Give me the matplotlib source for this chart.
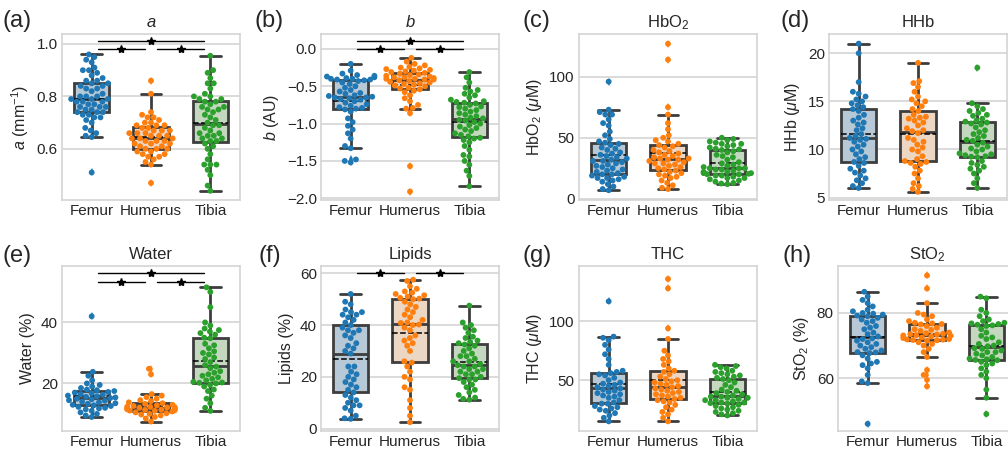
import numpy as np
import pandas as pd
import seaborn as sns
from matplotlib import pyplot as plt

sns.set_theme(style='whitegrid')
plt.rcParams['font.family'] = ['Liberation Sans', 'DejaVu Sans']
plt.rcParams['mathtext.fontset'] = 'custom'
plt.rcParams['mathtext.rm'] = 'Liberation Sans'
plt.rcParams['mathtext.it'] = 'Liberation Sans:italic'
plt.rcParams['mathtext.bf'] = 'Liberation Sans:bold'

bones = ['Femur', 'Humerus', 'Tibia']
point_colors = ['#1f77b4', '#ff7f0e', '#2ca02c']
box_colors = ['#b7c8d6', '#ecd6c4', '#c4d8c0']

# (a) a
a_femur = [0.96, 0.95, 0.94, 0.93, 0.91, 0.90, 0.90, 0.89, 0.88, 0.87, 0.86, 0.86, 0.85, 0.85, 0.84,
           0.84, 0.83, 0.83, 0.82, 0.81, 0.80, 0.80, 0.80, 0.79, 0.79, 0.79, 0.78, 0.78, 0.78, 0.77,
           0.77, 0.76, 0.76, 0.76, 0.75, 0.75, 0.74, 0.74, 0.74, 0.73, 0.73, 0.72, 0.72, 0.71, 0.70,
           0.68, 0.67, 0.66, 0.65, 0.645, 0.51]
a_humerus = [0.86, 0.81, 0.74, 0.73, 0.72, 0.72, 0.71, 0.70, 0.70, 0.69, 0.69, 0.69, 0.68, 0.68, 0.67,
             0.67, 0.67, 0.66, 0.66, 0.66, 0.65, 0.65, 0.65, 0.64, 0.64, 0.64, 0.63, 0.63, 0.63, 0.62,
             0.62, 0.62, 0.61, 0.61, 0.60, 0.60, 0.60, 0.59, 0.59, 0.58, 0.58, 0.57, 0.57, 0.56, 0.55,
             0.54, 0.47]
a_tibia = [0.955, 0.90, 0.89, 0.87, 0.85, 0.85, 0.83, 0.81, 0.80, 0.80, 0.79, 0.79,
           0.78, 0.78, 0.77, 0.76, 0.76, 0.75, 0.75, 0.74, 0.73, 0.72, 0.71, 0.70,
           0.69, 0.69, 0.68, 0.67, 0.66, 0.66, 0.65, 0.65, 0.64, 0.64, 0.63, 0.63,
           0.62, 0.61, 0.60, 0.58, 0.56, 0.54, 0.54, 0.54, 0.52, 0.50, 0.46, 0.44]

# (b) b
b_femur = [-0.20, -0.29, -0.33, -0.35, -0.36, -0.37, -0.38, -0.39, -0.40, -0.40, -0.41, -0.41,
           -0.42, -0.43, -0.45, -0.47, -0.50, -0.52, -0.55, -0.57, -0.59, -0.60, -0.62, -0.63, -0.64,
           -0.65, -0.65, -0.66, -0.67, -0.68, -0.70, -0.72, -0.74, -0.76, -0.78, -0.79, -0.80, -0.81,
           -0.84, -0.93, -0.98, -1.03, -1.08, -1.13, -1.20, -1.30, -1.33, -1.48, -1.50, -1.52]
b_humerus = [-0.12, -0.17, -0.20, -0.22, -0.24, -0.25, -0.26, -0.27, -0.28, -0.29, -0.30, -0.31,
             -0.32, -0.33, -0.34, -0.35, -0.36, -0.37, -0.38, -0.38, -0.39, -0.40, -0.40, -0.41,
             -0.41, -0.42, -0.43, -0.44, -0.45, -0.46, -0.47, -0.48, -0.49, -0.50, -0.52, -0.53,
             -0.54, -0.56, -0.58, -0.62, -0.66, -0.70, -0.75, -0.79, -0.80, -0.86, -1.57, -1.91]
b_tibia = [-0.31, -0.38, -0.45, -0.52, -0.55, -0.57, -0.60, -0.62, -0.65, -0.68, -0.70, -0.71,
           -0.72, -0.73, -0.75, -0.77, -0.78, -0.80, -0.82, -0.84, -0.86, -0.88, -0.90, -0.92, -0.93,
           -0.95, -0.96, -0.98, -1.00, -1.02, -1.04, -1.06, -1.08, -1.10, -1.13, -1.15, -1.17, -1.19,
           -1.20, -1.22, -1.25, -1.30, -1.35, -1.42, -1.44, -1.50, -1.55, -1.63, -1.70, -1.84]

# (c) HbO2
hbo2_femur = [96, 73, 71, 69, 69, 65, 62, 60, 55, 52, 49, 47, 46, 45, 44, 42, 41, 40, 38, 37, 36, 35,
              34, 33, 32, 31, 31, 30, 29, 28, 27, 26, 25, 24, 23, 22, 21, 20, 20, 19, 18, 17, 17, 16,
              15, 14, 12, 10, 8, 7]
hbo2_humerus = [127, 114, 75, 69, 62, 57, 52, 50, 48, 47, 45, 44, 43, 42, 40, 39, 38, 37, 36, 35, 34,
                33, 33, 32, 32, 31, 30, 29, 29, 28, 27, 26, 25, 24, 23, 22, 21, 20, 19, 18, 17, 15,
                13, 11, 9, 8]
hbo2_tibia = [50, 49, 48, 47, 46, 45, 45, 44, 43, 42, 41, 40.5,
              40, 39, 38, 36, 35, 34, 32, 30, 29, 28, 27, 26,
              25, 25, 25, 24, 24, 23, 22, 22, 21, 21, 20.5, 20.2,
              20, 19, 19, 18, 17, 17, 16, 15, 14, 13, 12.5, 12]

# (d) HHb
hhb_femur = [21, 20, 17, 16, 15.8, 15.5, 15.2, 15, 14.8, 14.6, 14.4, 14.2, 14, 13.6, 13.3, 13, 12.8,
             12.6, 12.2, 12, 11.6, 11.4, 11.2, 11.1, 11, 10.8, 10.5, 10.3, 10, 9.8, 9.5, 9.2, 9, 8.7,
             8.6, 8.3, 8, 7.8, 7.6, 7.3, 7, 6.8, 6.5, 6.2, 6.0]
hhb_humerus = [19, 17.1, 16.9, 16.5, 16, 15.5, 15.2, 15, 14.8, 14.5, 14.2,
               14, 13.6, 13.4, 13.3, 13.2, 13, 12.8, 12.5, 12.2, 12, 11.9,
               11.7, 11.2, 11, 10.8, 10.5, 10.2, 10, 9.8, 9.3, 9, 8.8,
               8.7, 8.6, 8.5, 8.2, 7.8, 7.5, 7, 6.5, 6.2, 5.9, 5.6]
hhb_tibia = [18.5, 14.8, 14.5, 14.2, 14, 13.8, 13.6, 13.5, 13.2, 13.0, 12.9,
             12.8, 12.7, 12.6, 12.3, 12, 11.8, 11.6, 11.4, 11.2, 11, 10.9,
             10.7, 10.5, 10.3, 10.1, 10, 9.8, 9.6, 9.5, 9.4, 9.3, 9.25,
             9.2, 8.8, 8.6, 8.4, 8.2, 8, 7.8, 7.5, 7, 6.5, 6.0]

# (e) Water
water_femur = [42, 23.8, 22.5, 21, 20, 19.5, 19, 18.5, 18, 17.8, 17.5, 17.2, 17, 16.8, 16.5, 16.3, 16,
               15.8, 15.6, 15.4, 15.2, 15, 14.8, 14.5, 14.3, 14, 13.8, 13.5, 13.3, 13, 12.8, 12.6,
               12.3, 12, 11.8, 11.5, 11, 10.5, 10, 9.5, 9]
water_humerus = [24.8, 23, 16.5, 16, 15.5, 15, 14.5, 14.2, 13.8, 13.5, 13.3, 13, 12.8, 12.6, 12.4,
                 12.3, 12.2, 12.1, 12, 11.9, 11.8, 11.7, 11.6, 11.5, 11.4, 11.3, 11.2, 11.1, 11,
                 10.8, 10.5, 10.2, 10, 9.8, 9.5, 9, 8.5, 7.5]
water_tibia = [51.5, 50, 45, 40, 39, 38, 37.5, 37, 36.5, 36, 35,
               34.8, 33, 32.5, 31.5, 30.5, 30, 29.5, 28.5, 28, 27, 26,
               25.5, 25, 24, 23.5, 23, 22.5, 22, 21.5, 21, 20.5, 20.3,
               20.2, 20, 19.5, 19, 18, 17.5, 16, 15, 13.5, 12, 11]

# (f) Lipids
lipids_femur = [52, 49, 48, 46, 45, 45, 44, 44, 43, 42, 41, 40, 39, 38, 38, 37, 36, 35, 33, 32, 31,
                30, 29, 24, 24, 22, 21, 20, 19, 18, 17, 16, 15, 14, 13, 12, 11, 10, 9, 9, 8, 7, 5, 4,
                3.8]
lipids_humerus = [57.5, 57, 55, 54, 53, 52.5, 52, 51.5, 51, 50.5, 50.2,
                  50, 49, 48, 47, 46, 45, 44, 43, 42, 41, 40.8,
                  40.2, 40, 39, 38, 36, 35, 34, 33, 32, 30, 26,
                  25.5, 24, 22, 20, 19, 16, 15, 11, 8, 5, 2.5]
lipids_tibia = [47.5, 41, 40, 39, 38, 37, 35.5, 35, 34, 33.5, 33,
                32.5, 32, 31, 30, 29, 28, 28, 27, 26, 26, 25,
                24.5, 24, 24, 23, 23, 22, 22, 21, 21, 20, 19.5,
                19, 19, 18, 17, 16, 15, 14, 13, 12, 11.5, 11.2]

# (g) THC
thc_femur = [117, 87, 86, 84, 80, 76, 72, 68, 63, 58, 57, 56, 55, 54, 52, 50, 48, 47, 46, 45, 44, 43,
             42, 41, 40, 39, 38, 37, 36, 35, 33, 31, 30, 30, 28, 27, 26, 25, 24, 22, 20, 18, 15]
thc_humerus = [136, 128, 94, 85, 75, 71, 68, 66, 63, 60, 58, 57, 55, 53, 51, 50, 49, 48, 47, 46, 45,
               44, 43, 42, 41, 40, 39, 38, 37, 36, 35, 34, 33, 32, 31, 29, 27, 25, 23, 21, 18, 15]
thc_tibia = [63, 62, 61, 60, 58, 57, 56, 55, 54, 53, 52,
             51, 50, 48, 46, 44, 42, 41, 40, 39, 38, 37,
             36, 36, 35, 35, 34, 33, 33, 32, 31, 31, 30.5,
             30, 29, 28, 27, 26, 25, 24, 23, 22, 21, 20]

# (h) StO2
sto2_femur = [86.5, 85, 84, 83, 82, 81, 80.5, 80, 79.8, 79.5, 79.2,
              79, 78.5, 78, 77.5, 77, 76, 75.5, 75, 74, 73.5, 72.8,
              72.2, 72, 71.5, 71, 70.5, 70, 69.5, 69, 68.5, 68, 67.9,
              67.7, 67, 66, 65, 64.5, 64, 63, 61, 59, 58.5, 46]
sto2_humerus = [91.5, 87.5, 83, 80, 79.5, 79, 78, 77.5, 77, 76.8, 76.6,
                76.5, 76, 75.5, 75, 74.8, 74.5, 74, 73.8, 73.6, 73.5, 73.4,
                73.2, 73.1, 73, 72.8, 72.5, 72.3, 72, 71.9, 71.8, 71.7, 71.6,
                71.5, 71, 70.5, 70, 69, 68, 66.5, 62.5, 61, 59.5, 57.5]
sto2_tibia = [85, 84.5, 81, 80, 79, 78, 77.5, 77, 76.8, 76.6, 76.4,
              76.2, 76, 75, 74, 73, 72.5, 72, 71, 70.5, 70, 69.8,
              69.2, 69, 68.5, 68, 68, 67.5, 67, 66.5, 66, 65.8, 65.6,
              65.5, 65, 64.5, 64, 63, 62, 61, 60, 56.5, 54, 49]

panels = [
    ('(a)', '$a$', '$a$ (mm$^{-1}$)', [a_femur, a_humerus, a_tibia], (0.405, 1.038), [0.6, 0.8, 1.0], '{:.1f}'),
    ('(b)', '$b$', '$b$ (AU)', [b_femur, b_humerus, b_tibia], (-2.023, 0.2), [-2.0, -1.5, -1.0, -0.5, 0.0], '{:.1f}'),
    ('(c)', 'HbO$_2$', 'HbO$_2$ ($\\mu$M)', [hbo2_femur, hbo2_humerus, hbo2_tibia], (-1, 135), [0, 50, 100], '{:.0f}'),
    ('(d)', 'HHb', 'HHb ($\\mu$M)', [hhb_femur, hhb_humerus, hhb_tibia], (4.75, 22), [5, 10, 15, 20], '{:.0f}'),
    ('(e)', 'Water', 'Water (%)', [water_femur, water_humerus, water_tibia], (4.4, 58.5), [20, 40], '{:.0f}'),
    ('(f)', 'Lipids', 'Lipids (%)', [lipids_femur, lipids_humerus, lipids_tibia], (-0.9, 62.8), [0, 20, 40, 60], '{:.0f}'),
    ('(g)', 'THC', 'THC ($\\mu$M)', [thc_femur, thc_humerus, thc_tibia], (6.8, 147), [50, 100], '{:.0f}'),
    ('(h)', 'StO$_2$', 'StO$_2$ (%)', [sto2_femur, sto2_humerus, sto2_tibia], (43.8, 94.4), [60, 80], '{:.0f}'),
]

# significance bars: (panel index, x0, x1, y)
sig_bars = [
    (0, 0.1, 1.9, 1.01), (0, 0.1, 0.9, 0.98), (0, 1.1, 1.9, 0.98),
    (1, 0.1, 1.9, 0.10), (1, 0.1, 0.9, 0.0), (1, 1.1, 1.9, 0.0),
    (4, 0.1, 1.9, 56.3), (4, 0.1, 0.9, 53.4), (4, 1.1, 1.9, 53.4),
    (5, 0.1, 0.9, 60.0), (5, 1.1, 1.9, 60.0),
]

W, H = 1008, 455
lefts = [62, 321, 579, 829, 62, 321, 579, 838]
rows = [(34, 200), (266, 431)]
label_x = [3, 255, 522, 780, 3, 258, 522, 782]
label_y = [21, 21, 21, 21, 256, 256, 256, 256]

fig = plt.figure(figsize=(W / 100, H / 100), dpi=100)
axes = []
for i, (lab, title, ylabel, groups, ylim, ticks, fmt) in enumerate(panels):
    top, bot = rows[i // 4]
    ax = fig.add_axes([lefts[i] / W, 1 - bot / H, 178 / W, (bot - top) / H])
    axes.append(ax)

    bp = ax.boxplot(groups, positions=[0, 1, 2], widths=0.6, patch_artist=True,
                    showmeans=True, meanline=True, capwidths=0.35, zorder=2,
                    boxprops=dict(edgecolor='#3d3d3d', linewidth=2),
                    whiskerprops=dict(color='#3d3d3d', linewidth=2),
                    capprops=dict(color='#3d3d3d', linewidth=2),
                    medianprops=dict(color='#3d3d3d', linewidth=2),
                    meanprops=dict(color='black', linestyle='--', linewidth=1.1),
                    flierprops=dict(marker='d', markersize=4, markeredgewidth=0))
    for j in range(3):
        bp['boxes'][j].set_facecolor(box_colors[j])
        bp['fliers'][j].set_markerfacecolor(point_colors[j])

    df = pd.DataFrame({'bone': np.repeat(bones, [len(g) for g in groups]),
                       'value': np.concatenate(groups)})
    sns.swarmplot(data=df, x='bone', y='value', hue='bone', order=bones, hue_order=bones,
                  palette=point_colors, size=4.2, legend=False, ax=ax, zorder=3, warn_thresh=1)

    ax.set_xlim(-0.5, 2.5)
    ax.set_ylim(*ylim)
    ax.set_yticks(ticks)
    ax.set_yticklabels([fmt.format(t).replace('-', '\u2212') for t in ticks])
    ax.set_xticks([0, 1, 2])
    ax.set_xticklabels(bones)
    ax.set_xlabel('')
    ax.set_ylabel(ylabel, fontsize=11.5, labelpad=4)
    ax.set_title(title, fontsize=12, pad=5)
    ax.tick_params(axis='both', labelsize=11, pad=3, colors='#262626', length=0)
    ax.grid(axis='x', visible=False)
    ax.grid(axis='y', color='#d4d4d4', linewidth=1.2)
    for s in ax.spines.values():
        s.set_color('#d4d4d4')
        s.set_linewidth(1.2)
    fig.text(label_x[i] / W, 1 - label_y[i] / H, lab, fontsize=17, va='center', ha='left')

for idx, x0, x1, y in sig_bars:
    ax = axes[idx]
    ax.plot([x0, x1], [y, y], color='black', linewidth=1, zorder=4, clip_on=False)
    ax.plot([(x0 + x1) / 2], [y], marker='*', color='black', markersize=6, zorder=5, clip_on=False)

fig.savefig('out.png', dpi=100)
